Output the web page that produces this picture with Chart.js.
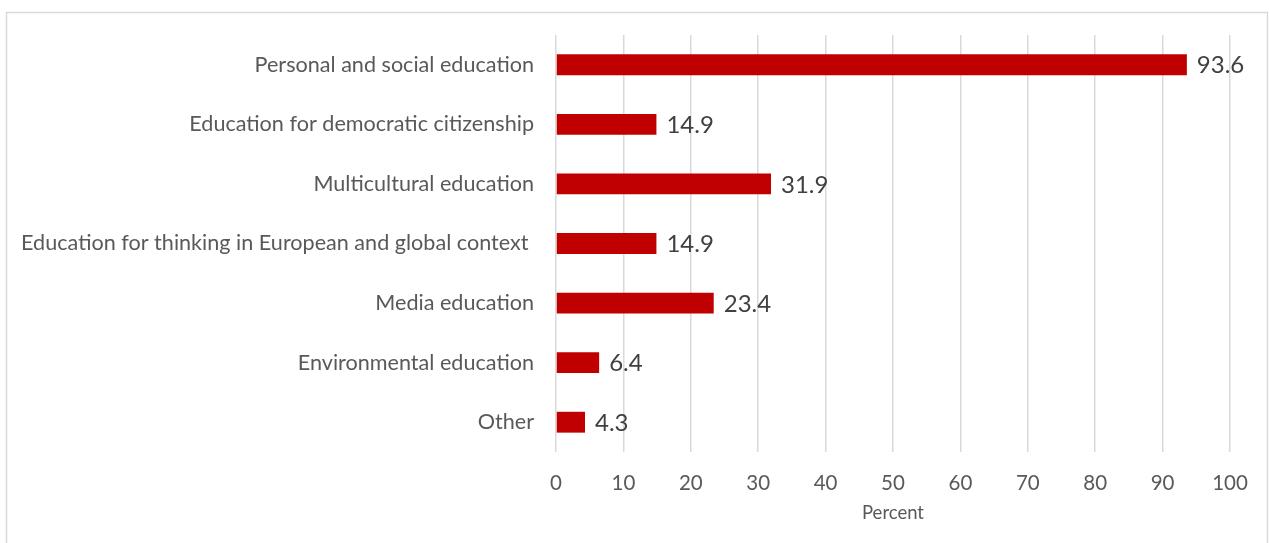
<!DOCTYPE html>
<html>
<head>
<meta charset="utf-8">
<script src="https://cdn.jsdelivr.net/npm/chart.js@4/dist/chart.umd.min.js"></script>
<style>
  html, body { margin: 0; padding: 0; background: #ffffff; }
  #chart-container { position: relative; width: 1269px; height: 543px; }
</style>
</head>
<body>
<div id="chart-container"><canvas id="cvs"></canvas></div>
<script>
//-------------------------------------------------------------------
// data
//-------------------------------------------------------------------
const categories = [
  'Personal and social education',
  'Education for democratic citizenship',
  'Multicultural education',
  'Education for thinking in European and global context ',
  'Media education',
  'Environmental education',
  'Other'
];
const percentValues = [93.6, 14.9, 31.9, 14.9, 23.4, 6.4, 4.3];
const xTickValues = [0, 10, 20, 30, 40, 50, 60, 70, 80, 90, 100];
const xAxisTitle = 'Percent';

//-------------------------------------------------------------------
// plugins
//-------------------------------------------------------------------
const FONT_FAMILY = 'Lato, "Open Sans", sans-serif';

const framePlugin = {
  id: 'frame',
  beforeDraw(chart) {
    const ctx = chart.ctx;
    ctx.save();
    ctx.strokeStyle = '#d9d9d9';
    ctx.lineWidth = 1.5;
    ctx.strokeRect(6.5, 12.5, 1261, 600);
    ctx.restore();
  }
};

const valueLabelPlugin = {
  id: 'valueLabels',
  afterDatasetsDraw(chart) {
    const ctx = chart.ctx;
    const meta = chart.getDatasetMeta(0);
    ctx.save();
    ctx.font = '24px ' + FONT_FAMILY;
    ctx.fillStyle = '#404040';
    ctx.textAlign = 'left';
    ctx.textBaseline = 'middle';
    meta.data.forEach((bar, i) => {
      ctx.fillText(percentValues[i].toFixed(1), bar.x + 10, bar.y + 1);
    });
    ctx.restore();
  }
};

//-------------------------------------------------------------------
// chart
//-------------------------------------------------------------------
const PLOT_LEFT = 556;
const PLOT_BOTTOM = 452;
const PAD_LEFT = 10;
const PAD_BOTTOM = 19;

const ctx = document.getElementById('cvs').getContext('2d');

new Chart(ctx, {
  type: 'bar',
  data: {
    labels: categories,
    datasets: [{
      data: percentValues,
      backgroundColor: '#c00000',
      borderWidth: 0,
      categoryPercentage: 1,
      barPercentage: 0.35
    }]
  },
  options: {
    indexAxis: 'y',
    animation: false,
    responsive: true,
    maintainAspectRatio: false,
    layout: {
      padding: { left: PAD_LEFT, right: 39, top: 34, bottom: PAD_BOTTOM }
    },
    scales: {
      x: {
        min: 0,
        max: 100,
        afterBuildTicks: (scale) => {
          scale.ticks = xTickValues.map(v => ({ value: v }));
        },
        afterFit: (scale) => {
          scale.height = 543 - PAD_BOTTOM - PLOT_BOTTOM;
        },
        grid: {
          color: '#d9d9d9',
          lineWidth: 1.5,
          drawTicks: false
        },
        border: { display: false },
        ticks: {
          padding: 19,
          color: '#595959',
          font: { family: FONT_FAMILY, size: 20.5 }
        },
        title: {
          display: true,
          text: xAxisTitle,
          color: '#595959',
          padding: { top: 0, bottom: 0 },
          font: { family: FONT_FAMILY, size: 18.5 }
        }
      },
      y: {
        afterFit: (scale) => {
          scale.width = PLOT_LEFT - PAD_LEFT;
        },
        grid: { display: false, drawTicks: false },
        border: { display: false },
        ticks: {
          padding: 22,
          color: '#595959',
          font: { family: FONT_FAMILY, size: 21.6 }
        }
      }
    },
    plugins: {
      legend: { display: false },
      tooltip: { enabled: false }
    }
  },
  plugins: [framePlugin, valueLabelPlugin]
});
</script>
</body>
</html>
